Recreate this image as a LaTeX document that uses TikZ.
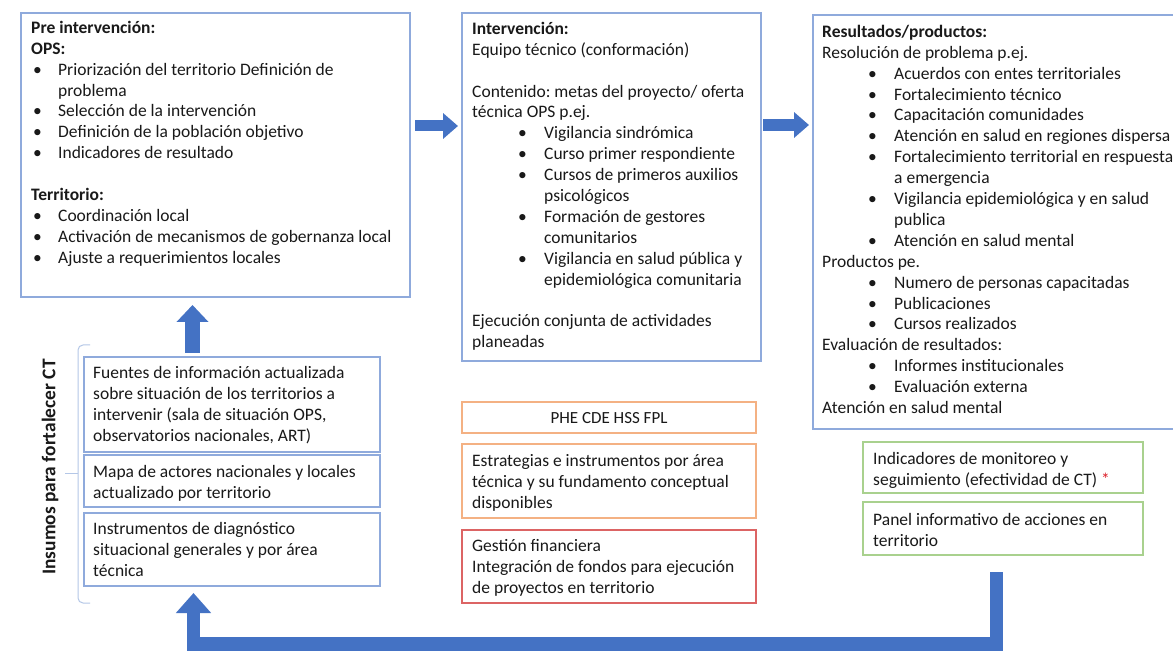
\documentclass[tikz,border=0pt]{standalone}
\usepackage{fontspec}
\setmainfont{Carlito}
\usetikzlibrary{arrows.meta}
\frenchspacing
\definecolor{boxblue}{RGB}{143,170,220}
\definecolor{arrowblue}{RGB}{68,114,196}
\definecolor{boxorange}{RGB}{244,177,131}
\definecolor{boxred}{RGB}{220,100,100}
\definecolor{boxgreen}{RGB}{169,209,142}
\definecolor{brackc}{RGB}{180,199,231}
\definecolor{astred}{RGB}{220,30,40}
\definecolor{txtc}{RGB}{25,25,25}
\newcommand{\bulA}{\hspace*{2pt}\makebox[25pt][l]{•}}
\newcommand{\conA}{\hspace*{27pt}}
\newcommand{\bulB}{\hspace*{46pt}\makebox[26pt][l]{•}}
\newcommand{\conB}{\hspace*{72pt}}
\tikzset{
  frame/.style={draw=#1, line width=1.3pt, fill=white, inner sep=0pt, outer sep=0pt, anchor=north west},
  txt/.style={anchor=north west, inner sep=0pt, align=left, text=txtc, font=\fontsize{17.5}{20.9}\selectfont},
  blockarrow/.style={draw=arrowblue, line cap=butt, line join=miter}
}
\begin{document}
\begin{tikzpicture}[x=1pt,y=-1pt]
\useasboundingbox (0,0) rectangle (1173,652);
\clip (0,0) rectangle (1173,652);
\fill[white] (0,0) rectangle (1173,652);

% main boxes
\node[frame=boxblue, minimum width=389pt, minimum height=284pt] (pre) at (21,13) {};
\node[frame=boxblue, minimum width=299pt, minimum height=348pt] (int) at (462,13) {};
\node[frame=boxblue, minimum width=377pt, minimum height=414pt] (res) at (813,15) {};

\node[txt] (pretxt) at (31,18.5) {\strut\textbf{Pre intervención:}\\
\textbf{OPS:}\\
\bulA Priorización del territorio Definición de\\
\conA problema\\
\bulA Selección de la intervención\\
\bulA Definición de la población objetivo\\
\bulA Indicadores de resultado\\[20.9pt]
\textbf{Territorio:}\\
\bulA Coordinación local\\
\bulA Activación de mecanismos de gobernanza local\\
\bulA Ajuste a requerimientos locales};

\node[txt] (inttxt) at (472,19.5) {\strut\textbf{Intervención:}\\
Equipo técnico (conformación)\\[20.9pt]
Contenido: metas del proyecto/ oferta\\
técnica OPS p.ej.\\
\bulB Vigilancia sindrómica\\
\bulB Curso primer respondiente\\
\bulB Cursos de primeros auxilios\\
\conB psicológicos\\
\bulB Formación de gestores\\
\conB comunitarios\\
\bulB Vigilancia en salud pública y\\
\conB epidemiológica comunitaria\\[20.9pt]
Ejecución conjunta de actividades\\
planeadas};

\node[txt] (restxt) at (822,22.5) {\strut\textbf{Resultados/productos:}\\
Resolución de problema p.ej.\\
\bulB Acuerdos con entes territoriales\\
\bulB Fortalecimiento técnico\\
\bulB Capacitación comunidades\\
\bulB Atención en salud en regiones dispersa\\
\bulB Fortalecimiento territorial en respuesta\\
\conB a emergencia\\
\bulB Vigilancia epidemiológica y en salud\\
\conB publica\\
\bulB Atención en salud mental\\
Productos pe.\\
\bulB Numero de personas capacitadas\\
\bulB Publicaciones\\
\bulB Cursos realizados\\
Evaluación de resultados:\\
\bulB Informes institucionales\\
\bulB Evaluación externa\\
Atención en salud mental};

% inputs boxes (left)
\node[frame=boxblue, minimum width=296pt, minimum height=95pt] (fue) at (84,357) {};
\node[frame=boxblue, minimum width=296pt, minimum height=52pt] (map) at (84,455) {};
\node[frame=boxblue, minimum width=296pt, minimum height=73pt] (ins) at (84,513) {};
\node[txt] (fuetxt) at (93,363.5) {\strut Fuentes de información actualizada\\
sobre situación de los territorios a\\
intervenir (sala de situación OPS,\\
observatorios nacionales, ART)};
\node[txt] (maptxt) at (93,462.5) {\strut Mapa de actores nacionales y locales\\
actualizado por territorio};
\node[txt] (instxt) at (93,519.5) {\strut Instrumentos de diagnóstico\\
situacional generales y por área\\
técnica};

% bracket and label
\draw[brackc, line width=1pt, rounded corners=5pt] (90,345) -- (78,345) -- (78,603) -- (90,603);
\draw[brackc, line width=1pt] (78,473) -- (65,473);
\node[rotate=90, inner sep=0pt, text=txtc, font=\bfseries\fontsize{19.4}{22}\selectfont] (lbl) at (50,467) {Insumos para fortalecer CT};

% middle boxes
\node[frame=boxorange, minimum width=294pt, minimum height=31pt] (phe) at (462,402) {};
\node[inner sep=0pt, text=txtc, font=\fontsize{17}{20.9}\selectfont] (phetxt) at (609,418) {PHE CDE HSS FPL};
\node[frame=boxorange, minimum width=294pt, minimum height=74pt] (est) at (462,444) {};
\node[txt] (esttxt) at (472,451.5) {\strut Estrategias e instrumentos por área\\
técnica y su fundamento conceptual\\
disponibles};
\node[frame=boxred, minimum width=294pt, minimum height=73pt] (ges) at (462,530) {};
\node[txt] (gestxt) at (472,536.5) {\strut Gestión financiera\\
Integración de fondos para ejecución\\
de proyectos en territorio};

% green boxes
\node[frame=boxgreen, minimum width=280pt, minimum height=51pt] (ind) at (863,442) {};
\node[txt] (indtxt) at (873,449.5) {\strut Indicadores de monitoreo y\\
seguimiento (efectividad de CT) \textcolor{astred}{*}};
\node[frame=boxgreen, minimum width=280pt, minimum height=53pt] (pan) at (863,502) {};
\node[txt] (pantxt) at (873,510.5) {\strut Panel informativo de acciones en\\
territorio};

% arrows
\coordinate (a1s) at (415,126);
\coordinate (a1e) at (458,126);
\coordinate (a2s) at (763,125);
\coordinate (a2e) at (809,125);
\coordinate (a3s) at (192.5,353);
\coordinate (a3e) at (192.5,305);
\draw[blockarrow, line width=11pt, -{Triangle[width=25pt,length=15pt]}] (a1s) -- (a1e);
\draw[blockarrow, line width=12pt, -{Triangle[width=25pt,length=15pt]}] (a2s) -- (a2e);
\draw[blockarrow, line width=15pt, -{Triangle[width=31pt,length=17pt]}] (a3s) -- (a3e);

\coordinate (fbs) at (996.5,572);
\coordinate (fbc1) at (996.5,644);
\coordinate (fbc2) at (193.5,644);
\coordinate (fbe) at (193.5,593);
\draw[blockarrow, line width=13.5pt, -{Triangle[width=34pt,length=20pt]}] (fbs) -- (fbc1) -- (fbc2) -- (fbe);
\end{tikzpicture}
\end{document}
